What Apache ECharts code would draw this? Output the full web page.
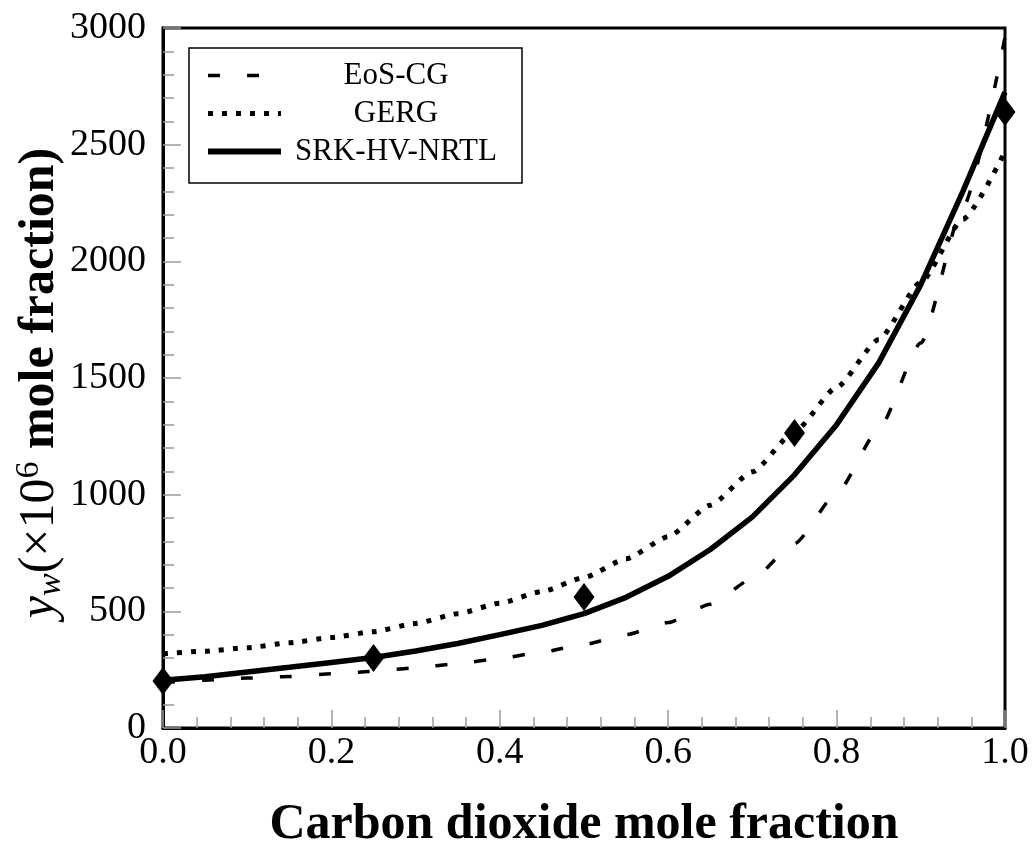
<!DOCTYPE html>
<html>
<head>
<meta charset="utf-8">
<script src="https://cdn.jsdelivr.net/npm/echarts@6/dist/echarts.min.js"></script>
<style>
html,body{margin:0;padding:0;background:#fff;}
#c{width:1036px;height:844px;}
</style>
</head>
<body>
<div id="c"></div>
<script>
// CO2 mole fraction grid
var xValues = [0,0.05,0.1,0.15,0.2,0.25,0.3,0.35,0.4,0.45,0.5,0.55,0.6,0.65,0.7,0.75,0.8,0.85,0.9,0.95,1.0];
var eosCG   = [195,205,214,221,232,243,258,276,298,325,358,400,452,530,640,790,1005,1280,1650,2230,2960];
var gerg    = [318,329,344,365,388,413,448,490,535,585,645,725,820,955,1098,1270,1460,1665,1910,2180,2470];
var srk     = [205,220,240,260,281,302,330,362,400,440,490,560,650,765,905,1085,1300,1565,1900,2300,2725];
// experimental points
var expX = [0,0.25,0.5,0.75,1.0];
var expY = [201,300,561,1264,2640];
var seriesNames = ['EoS-CG','GERG','SRK-HV-NRTL'];
var xTitle = 'Carbon dioxide mole fraction';

var FF = 'Liberation Serif';
function pairs(xs, ys){ return xs.map(function(x,i){ return [x, ys[i]]; }); }

var dashEos = [12,27], dashGerg = [5,9];
var chart = echarts.init(document.getElementById('c'), null, {renderer:'canvas'});
var tickStyle = {color:'#9a9a9a', width:1.5};
chart.setOption({
  backgroundColor:'#fff',
  animation:false,
  grid:{left:163, right:31, top:28, bottom:116, show:true, borderColor:'#000', borderWidth:3,
        backgroundColor:'transparent', containLabel:false, outerBoundsMode:'none'},
  legend:{
    orient:'vertical', left:189, top:48, padding:[12,16,16,16],
    itemWidth:73, itemHeight:14, itemGap:7,
    borderColor:'#000', borderWidth:1.5, backgroundColor:'#fff',
    itemStyle:{opacity:0},
    data:[
      {name:seriesNames[0], lineStyle:{width:3.5, type:dashEos, color:'#000'}},
      {name:seriesNames[1], lineStyle:{width:5, type:dashGerg, color:'#000'}},
      {name:seriesNames[2], lineStyle:{width:6, type:'solid', color:'#000'}}
    ],
    formatter:function(n){ return '{c|'+n+'}'; },
    textStyle:{fontFamily:FF, fontSize:31, color:'#000',
      rich:{c:{width:220, align:'center', fontFamily:FF, fontSize:31, lineHeight:30, color:'#000'}}}
  },
  xAxis:{
    type:'value', min:0, max:1, interval:0.2,
    axisLine:{show:true, onZero:false, lineStyle:{color:'#000', width:3}},
    axisTick:{show:true, inside:true, length:18, lineStyle:tickStyle},
    minorTick:{show:true, splitNumber:5, length:11, lineStyle:tickStyle},
    splitLine:{show:false}, minorSplitLine:{show:false},
    axisLabel:{formatter:function(v){return v.toFixed(1);}, fontFamily:FF, fontSize:38, color:'#000', margin:6},
    name:xTitle, nameLocation:'middle', nameGap:72,
    nameTextStyle:{fontFamily:FF, fontWeight:'bold', fontSize:50, color:'#000'}
  },
  yAxis:{
    type:'value', min:0, max:3000, interval:500,
    axisLine:{show:true, onZero:false, lineStyle:{color:'#000', width:3}},
    axisTick:{show:true, inside:true, length:18, lineStyle:tickStyle},
    minorTick:{show:true, splitNumber:5, length:11, lineStyle:tickStyle},
    splitLine:{show:false}, minorSplitLine:{show:false},
    axisLabel:{formatter:function(v){return String(v);}, fontFamily:FF, fontSize:38, color:'#000', margin:17}
  },
  graphic:[{
    type:'text', x:40, y:383, rotation:Math.PI/2, silent:true,
    style:{
      text:'{yi|y}{sub|w}{n|(×10}{sup|6}{b| mole fraction)}',
      align:'center', verticalAlign:'middle', fill:'#000',
      rich:{
        yi:{fontFamily:FF, fontStyle:'italic', fontSize:50, lineHeight:56, verticalAlign:'middle'},
        sub:{fontFamily:FF, fontStyle:'italic', fontSize:34, lineHeight:28, verticalAlign:'bottom'},
        n:{fontFamily:FF, fontSize:50, lineHeight:56, verticalAlign:'middle'},
        sup:{fontFamily:FF, fontSize:34, lineHeight:28, verticalAlign:'top'},
        b:{fontFamily:FF, fontWeight:'bold', fontSize:50, lineHeight:56, verticalAlign:'middle'}
      }
    }
  }],
  series:[
    {name:seriesNames[0], type:'line', data:pairs(xValues,eosCG), symbol:'none', smooth:0.2, smoothMonotone:'x',
     lineStyle:{color:'#000', width:3.5, type:dashEos, cap:'butt'}, itemStyle:{color:'#000'}, z:3},
    {name:seriesNames[1], type:'line', data:pairs(xValues,gerg), symbol:'none', smooth:0.2, smoothMonotone:'x',
     lineStyle:{color:'#000', width:5, type:dashGerg, cap:'butt'}, itemStyle:{color:'#000'}, z:3},
    {name:seriesNames[2], type:'line', data:pairs(xValues,srk), symbol:'none',
     lineStyle:{color:'#000', width:5.5, type:'solid'}, itemStyle:{color:'#000'}, z:4},
    {name:'Experimental', type:'scatter', data:pairs(expX,expY), symbol:'diamond', symbolSize:[21,28],
     itemStyle:{color:'#000', opacity:1}, z:5, clip:false}
  ]
});
</script>
</body>
</html>
